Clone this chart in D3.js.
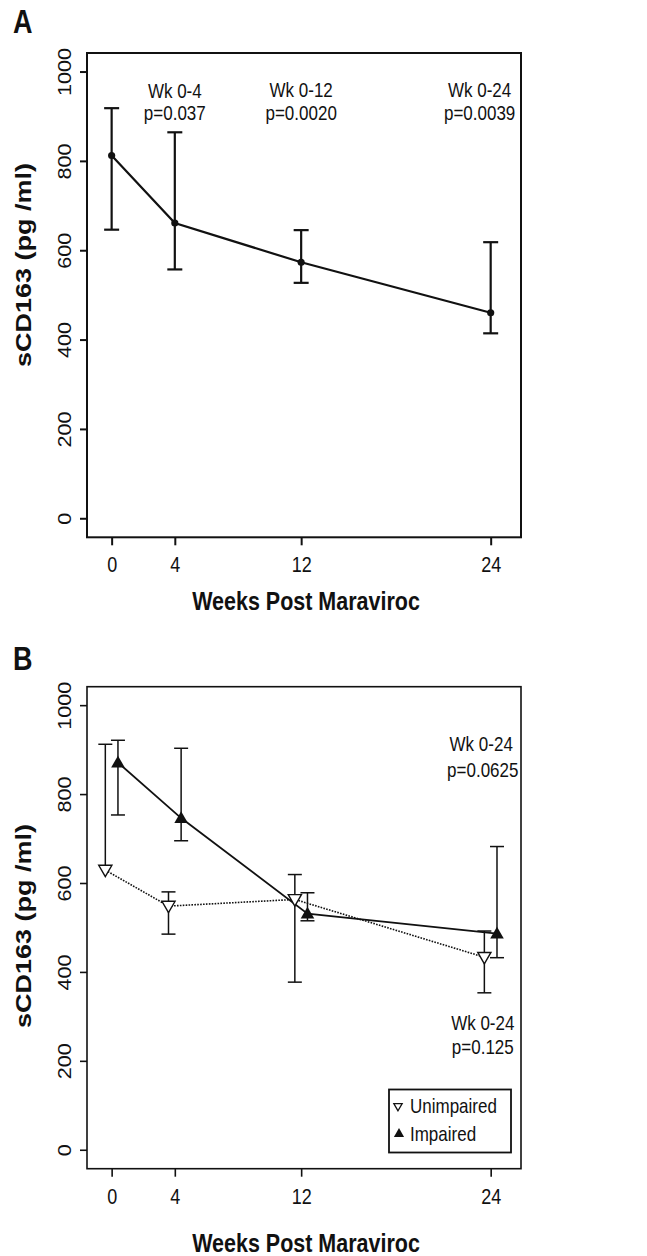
<!DOCTYPE html>
<html>
<head>
<meta charset="utf-8">
<script src="https://cdn.jsdelivr.net/npm/d3@7"></script>
<style>
html,body{margin:0;padding:0;background:#fff;}
svg{display:block;}
text{font-family:"Liberation Sans",Arial,Helvetica,sans-serif;fill:#111;}
</style>
</head>
<body>
<script>
// ---------- data ----------
const weeks = [0, 4, 12, 24];
const weekTickLabels = ["0", "4", "12", "24"];
const yTicks = [0, 200, 400, 600, 800, 1000];

// Panel A: all subjects
const allMean  = [812, 661, 573, 460];
const allUpper = [918, 864, 645, 618];
const allLower = [646, 557, 527, 414];

// Panel B: Unimpaired (open down-triangles, dotted line)
const unimpMean  = [629, 548, 563, 433];
const unimpUpper = [912, 580, 619, 492];
const unimpLower = [null, 485, 377, 353];

// Panel B: Impaired (filled up-triangles, solid line)
const impMean  = [871, 746, 531, 486];
const impUpper = [921, 903, 578, 682];
const impLower = [753, 695, 515, 432];

const seriesNames = ["Unimpaired", "Impaired"];

// annotations: [week position, value for baseline, text]
const annotA = [
  [4, 940, "Wk 0-4"], [4, 891, "p=0.037"],
  [12, 944, "Wk 0-12"], [12, 892, "p=0.0020"],
  [23.3, 944, "Wk 0-24"], [23.3, 892, "p=0.0039"]
];
const annotB = [
  [23.4, 896, "Wk 0-24"], [23.5, 838, "p=0.0625"],
  [23.5, 270, "Wk 0-24"], [23.5, 216, "p=0.125"]
];

const xTitle = "Weeks Post Maraviroc";
const yTitle = "sCD163 (pg /ml)";

// ---------- layout ----------
const W = 647, H = 1256;
const SY = 1.2; // vertical stretch of the original typography
const svg = d3.select("body").append("svg").attr("width", W).attr("height", H);

const x = d3.scaleLinear().domain([-1.56, 25.92]).range([87, 521]);

function hText(g, px, py, str, size, bold, anchor) {
  return g.append("text")
    .attr("transform", `translate(${px},${py}) scale(1,${SY})`)
    .attr("text-anchor", anchor || "middle")
    .style("font-size", size + "px")
    .style("font-weight", bold ? "bold" : "normal")
    .text(str);
}

function panel(top, bottom, label, labelY, opts) {
  const y = d3.scaleLinear().domain([-42.6, 1041.5]).range([bottom, top]);
  const g = svg.append("g");
  const sw = opts.boxWidth;

  // box
  g.append("rect").attr("x", x.range()[0]).attr("y", top)
    .attr("width", x.range()[1] - x.range()[0]).attr("height", bottom - top)
    .attr("fill", "none").attr("stroke", "#111").attr("stroke-width", sw);

  // y axis
  const ya = g.append("g").attr("transform", `translate(${x.range()[0]},0)`)
    .call(d3.axisLeft(y).tickValues(yTicks).tickSize(7).tickFormat(d3.format("d")));
  ya.select(".domain").remove();
  ya.selectAll("line").attr("stroke", "#111").attr("stroke-width", sw);
  ya.selectAll("text")
    .attr("x", null).attr("dy", null)
    .attr("text-anchor", "middle")
    .attr("transform", `translate(-16,0) rotate(-90) scale(${SY},1)`)
    .style("font-size", "18px").attr("fill", "#111");

  // x axis
  const xa = g.append("g").attr("transform", `translate(0,${bottom})`)
    .call(d3.axisBottom(x).tickValues(weeks).tickSize(8)
      .tickFormat((d, i) => weekTickLabels[i]));
  xa.select(".domain").remove();
  xa.selectAll("line").attr("stroke", "#111").attr("stroke-width", sw);
  xa.selectAll("text")
    .attr("y", null).attr("dy", null)
    .attr("transform", `translate(0,35) scale(1,${SY})`)
    .style("font-size", "18px").attr("fill", "#111");

  // titles
  hText(g, 306, bottom + opts.xTitleOff, xTitle, 21.5, true);
  g.append("text")
    .attr("transform", `translate(31,${opts.yTitleCenter}) rotate(-90) scale(${SY},1)`)
    .attr("text-anchor", "middle")
    .style("font-size", "22.5px").style("font-weight", "bold")
    .text(yTitle);

  // panel label
  hText(g, 13, labelY, label, 27, true, "start");
  return {g, y};
}

// ---------- Panel A ----------
{
  const {g, y} = panel(53, 537.3, "A", 33, {boxWidth: 2, xTitleOff: 73, yTitleCenter: 265});
  weeks.forEach((w, i) => {
    const px = x(w), top = y(allUpper[i]), bot = y(allLower[i]);
    g.append("line").attr("x1", px).attr("x2", px).attr("y1", top).attr("y2", bot)
      .attr("stroke", "#111").attr("stroke-width", 2.2);
    [top, bot].forEach(v => g.append("line").attr("x1", px - 7.5).attr("x2", px + 7.5)
      .attr("y1", v).attr("y2", v).attr("stroke", "#111").attr("stroke-width", 2.2));
  });
  const line = d3.line().x((d, i) => x(weeks[i])).y(d => y(d));
  g.append("path").datum(allMean).attr("d", line)
    .attr("fill", "none").attr("stroke", "#111").attr("stroke-width", 2.2);
  g.selectAll("circle.pt").data(allMean).join("circle").attr("class", "pt")
    .attr("cx", (d, i) => x(weeks[i])).attr("cy", d => y(d)).attr("r", 3.6).attr("fill", "#111");
  annotA.forEach(a => hText(g, x(a[0]), y(a[1]), a[2], 17, false));
}

// ---------- Panel B ----------
{
  const {g, y} = panel(686.7, 1168.7, "B", 670, {boxWidth: 1.6, xTitleOff: 83, yTitleCenter: 926});
  const off = 0.4;
  const xu = weeks.map(w => w - off);
  const xi = weeks.map(w => w + off);

  // unimpaired error bars (first bar has upper arm only: from point to upper)
  xu.forEach((xv, i) => {
    const px = x(xv);
    const top = y(unimpUpper[i]);
    const bot = unimpLower[i] == null ? y(unimpMean[i]) : y(unimpLower[i]);
    g.append("line").attr("x1", px).attr("x2", px).attr("y1", top).attr("y2", bot)
      .attr("stroke", "#111").attr("stroke-width", 1.5);
    g.append("line").attr("x1", px - 7).attr("x2", px + 7).attr("y1", top).attr("y2", top)
      .attr("stroke", "#111").attr("stroke-width", 1.5);
    if (unimpLower[i] != null)
      g.append("line").attr("x1", px - 7).attr("x2", px + 7).attr("y1", bot).attr("y2", bot)
        .attr("stroke", "#111").attr("stroke-width", 1.5);
  });
  xi.forEach((xv, i) => {
    const px = x(xv);
    const top = y(impUpper[i]), bot = y(impLower[i]);
    g.append("line").attr("x1", px).attr("x2", px).attr("y1", top).attr("y2", bot)
      .attr("stroke", "#111").attr("stroke-width", 1.5);
    [top, bot].forEach(v => g.append("line").attr("x1", px - 7).attr("x2", px + 7)
      .attr("y1", v).attr("y2", v).attr("stroke", "#111").attr("stroke-width", 1.5));
  });

  const lineU = d3.line().x((d, i) => x(xu[i])).y(d => y(d));
  const lineI = d3.line().x((d, i) => x(xi[i])).y(d => y(d));
  g.append("path").datum(unimpMean).attr("d", lineU).attr("fill", "none")
    .attr("stroke", "#111").attr("stroke-width", 1.6).attr("stroke-dasharray", "1.6,1.3");
  g.append("path").datum(impMean).attr("d", lineI).attr("fill", "none")
    .attr("stroke", "#111").attr("stroke-width", 1.8);

  g.selectAll("path.u").data(unimpMean).join("path").attr("class", "u")
    .attr("d", d3.symbol().type(d3.symbolTriangle).size(75))
    .attr("transform", (d, i) => `translate(${x(xu[i])},${y(d) - 1}) rotate(180)`)
    .attr("fill", "#fff").attr("stroke", "#111").attr("stroke-width", 1.4);
  g.selectAll("path.i").data(impMean).join("path").attr("class", "i")
    .attr("d", d3.symbol().type(d3.symbolTriangle).size(80))
    .attr("transform", (d, i) => `translate(${x(xi[i])},${y(d) + 1})`)
    .attr("fill", "#111");

  annotB.forEach(a => hText(g, x(a[0]), y(a[1]), a[2], 17, false));

  // legend
  const lg = g.append("g");
  lg.append("rect").attr("x", 389).attr("y", 1089.5).attr("width", 122).attr("height", 63)
    .attr("fill", "#fff").attr("stroke", "#111").attr("stroke-width", 1.8);
  const rows = [1106, 1134];
  lg.append("path").attr("d", d3.symbol().type(d3.symbolTriangle).size(30))
    .attr("transform", `translate(398,${rows[0]}) rotate(180)`)
    .attr("fill", "#fff").attr("stroke", "#111").attr("stroke-width", 1.3);
  lg.append("path").attr("d", d3.symbol().type(d3.symbolTriangle).size(45))
    .attr("transform", `translate(399,${rows[1]})`).attr("fill", "#111");
  seriesNames.forEach((s, i) => hText(lg, 410, rows[i] + 7, s, 17, false, "start"));
}
</script>
</body>
</html>
